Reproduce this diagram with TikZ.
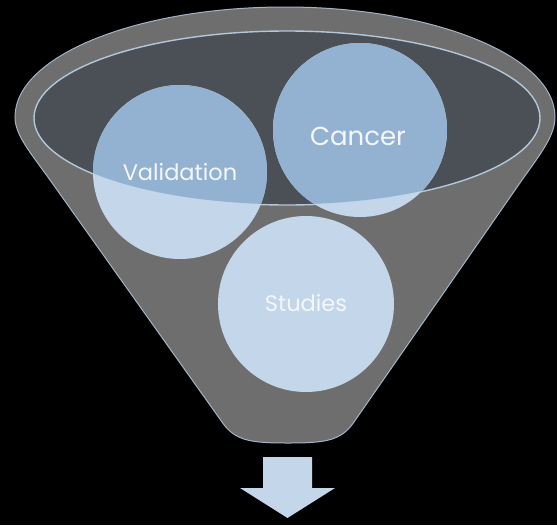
\documentclass[tikz,border=0pt]{standalone}
\usepackage{fontspec}
\setmainfont{Poppins}
\definecolor{bgblack}{HTML}{000000}
\definecolor{funnelgray}{HTML}{6E6E6E}
\definecolor{funneledge}{HTML}{A3B3C3}
\definecolor{innerdark}{HTML}{4B5056}
\definecolor{inneredge}{HTML}{B4C7DA}
\definecolor{balllight}{HTML}{C4D6EA}
\definecolor{balldark}{HTML}{93B2D2}
\definecolor{labeltext}{HTML}{F4F7FA}
\tikzset{
  funnelbody/.style={fill=funnelgray, draw=funneledge, line width=1pt},
  opening/.style={fill=innerdark, draw=inneredge, line width=1.4pt},
  balllow/.style={fill=balllight},
  ballhigh/.style={fill=balldark},
  balllabel/.style={text=labeltext, inner sep=0pt, font=\fontsize{22.5}{26}\selectfont},
  outarrow/.style={fill=balllight}
}
\begin{document}
\begin{tikzpicture}[x=1pt,y=-1pt]
\fill[bgblack] (0,0) rectangle (557,525);
\useasboundingbox (0,0) rectangle (557,525);
% funnel body
\path[funnelbody] (222,422) -- (50,180) .. controls (30,152) and (15,135) .. (15,117)
  arc[start angle=180, end angle=360, x radius=270, y radius=110]
  .. controls (555,135) and (542,152) .. (522,180) -- (354,422)
  .. controls (341,441) and (325,443) .. (288,443)
  .. controls (251,443) and (235,441) .. (222,422) -- cycle;
% opening
\path[opening] (287,118) ellipse[x radius=253, y radius=87];
% balls
\fill[balllow] (180,172) circle[radius=87];
\fill[balllow] (360,130) circle[radius=87];
\fill[balllow] (306,304) circle[radius=88];
\begin{scope}
  \clip (287,118) ellipse[x radius=252.3, y radius=86.3];
  \fill[ballhigh] (180,172) circle[radius=87];
  \fill[ballhigh] (360,130) circle[radius=87];
  \fill[ballhigh] (306,304) circle[radius=88];
\end{scope}
% labels
\node[balllabel] (val) at (180,172) {Validation};
\node[balllabel, font=\fontsize{26}{30}\selectfont] (can) at (358,136) {Cancer};
\node[balllabel] (stu) at (306,303) {Studies};
% arrow
\path[outarrow] (263,457) -- (312,457) -- (312,488) -- (335,488) -- (287.5,518)
  -- (240,488) -- (263,488) -- cycle;
\end{tikzpicture}
\end{document}
